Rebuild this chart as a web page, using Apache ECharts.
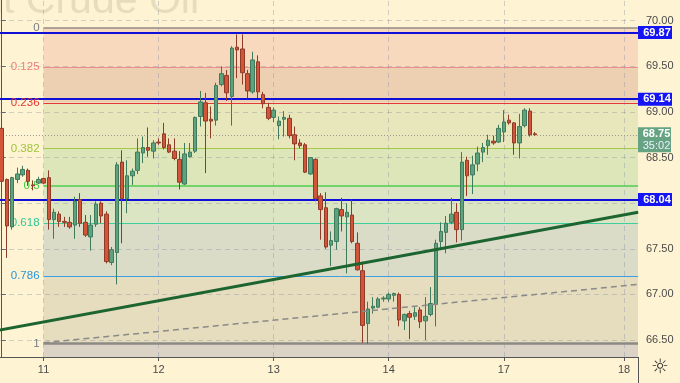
<!DOCTYPE html>
<html><head><meta charset="utf-8">
<script src="https://cdn.jsdelivr.net/npm/echarts@6/dist/echarts.min.js"></script>
<style>html,body{margin:0;padding:0;background:#fef3d2;}#c{width:680px;height:383px;}</style>
</head><body><div id="c"></div>
<script>
// ---- data (hourly bars, index 0 = first visible bar) ----
const opens  = [68.82,68.26,67.74,68.26,68.31,68.36,68.20,68.22,68.27,68.28,67.82,67.88,67.80,67.79,67.76,68.04,67.79,67.63,67.77,68.00,67.88,67.35,67.46,68.45,68.05,68.30,68.36,68.55,68.61,68.57,68.67,68.76,68.64,68.57,68.48,68.21,68.51,68.57,68.95,69.10,68.92,68.91,69.30,69.40,69.17,69.71,69.69,69.42,69.22,69.55,69.19,69.05,68.94,68.85,68.92,68.93,68.75,68.66,68.64,68.32,68.48,68.08,67.95,67.54,67.58,67.93,67.85,67.87,67.56,67.26,66.68,66.85,66.86,66.95,66.95,66.99,67.00,66.71,66.79,66.76,66.83,66.71,66.78,66.89,67.58,67.68,67.79,67.90,67.71,68.47,68.31,68.43,68.56,68.63,68.68,68.67,68.78,68.91,68.88,68.66,68.85,69.01,68.76];
const closes = [68.24,67.75,68.28,68.32,68.37,68.24,68.19,68.26,68.22,67.82,67.90,67.80,67.79,67.74,68.02,67.78,67.65,67.76,67.99,67.86,67.36,67.49,68.42,68.05,68.30,68.35,68.56,68.61,68.58,68.66,68.66,68.61,68.56,68.49,68.23,68.54,68.56,68.94,69.11,68.90,68.90,69.29,69.42,69.21,69.70,69.68,69.43,69.23,69.57,69.22,69.09,68.93,69.02,68.90,68.94,68.74,68.65,68.63,68.34,68.50,68.05,67.93,67.52,67.59,67.94,67.86,67.90,67.58,67.27,66.66,66.84,66.87,66.95,66.96,67.00,67.01,66.72,66.78,66.75,66.80,66.70,66.76,66.90,67.56,67.69,67.78,67.88,67.71,68.45,68.30,68.42,68.55,68.61,68.69,68.66,68.82,68.89,68.88,68.66,68.84,69.02,68.75,68.75];
const lows   = [68.13,67.40,67.71,68.22,68.29,68.19,68.14,68.21,68.21,67.71,67.61,67.74,67.74,67.72,67.61,67.74,67.63,67.48,67.74,67.78,67.34,67.32,67.11,67.56,67.89,68.20,68.32,68.44,68.51,68.49,68.64,68.59,68.55,68.47,68.15,68.20,68.50,68.55,68.84,68.33,68.71,68.85,69.28,69.12,68.85,69.37,69.30,69.15,69.20,69.15,69.04,68.91,68.89,68.70,68.73,68.71,68.47,68.60,68.33,68.31,68.02,67.60,67.50,67.31,67.49,67.69,67.23,67.56,67.26,66.47,66.46,66.79,66.85,66.92,66.92,66.92,66.65,66.61,66.51,66.72,66.63,66.50,66.76,66.65,67.51,67.45,67.77,67.57,67.59,68.08,68.10,68.35,68.45,68.53,68.64,68.66,68.67,68.86,68.53,68.49,68.83,68.73,68.74];
const highs  = [68.92,68.27,68.29,68.39,68.41,68.38,68.25,68.29,68.28,68.36,67.94,67.91,67.85,67.85,68.07,68.11,67.87,67.87,68.02,68.02,67.91,67.52,68.45,68.58,68.47,68.38,68.71,68.73,68.83,68.69,68.71,68.88,68.71,68.71,68.57,68.66,68.66,68.95,69.23,69.21,69.06,69.32,69.50,69.46,69.72,69.85,69.85,69.46,69.66,69.62,69.22,69.10,69.05,68.95,69.01,68.97,68.84,68.70,68.66,68.50,68.49,68.11,68.12,67.69,67.95,68.06,68.00,68.04,67.68,67.36,66.92,66.97,66.97,66.98,67.02,67.02,67.02,66.79,66.82,66.86,66.86,66.97,67.08,67.60,67.79,67.86,68.06,68.00,68.56,68.51,68.52,68.62,68.66,68.75,68.74,68.86,69.02,68.97,68.89,68.98,69.04,69.04,68.78];

const dayTicks  = [8, 30, 52, 74, 96, 119];
const dayLabels = ['11', '12', '13', '14', '17', '18'];
const priceTicks = [66.5, 67, 67.5, 68, 68.5, 69, 69.5, 70];
const priceLabelTicks = [66.5, 67, 67.5, 68.5, 69, 69.5, 70];

const fibRatios = ['0', '0.125', '0.236', '0.382', '0.5', '0.618', '0.786', '1'];
const fibPrices = [69.92, 69.49, 69.10, 68.60, 68.19, 67.78, 67.20, 66.46];
const fibStartIndex = 8;

const blueLevels = [69.87, 69.14, 68.04];
const lastPrice = 68.75;
const countdown = '35:02';
const greenTrend  = [[-0.4, 66.61], [121.7, 67.90]];
const dashedTrend = [[8, 66.47], [121.7, 67.11]];
const watermark = 'Light Crude Oil';

const xMin = -0.325, xMax = 121.67, yMin = 66.314, yMax = 70.227;

// ---- styles ----
const fibLineColors  = ['#8e8c86', '#f08c8c', '#e53935', '#a3c94a', '#4cce4c', '#3fcf9e', '#3a9ee0', '#8c8a85'];
const fibLabelColors = ['#787b86', '#ef7d7d', '#e53935', '#9dc43a', '#3fcc3f', '#2fc89a', '#2b95d8', '#787b86'];
const fibLineWidths  = [1.5, 1, 1, 1, 1.5, 1, 1, 2.5];
const zoneColors = ['#f9d9bd', '#edd0b2', '#e8e7bb', '#dde6b9', '#dbe5c3', '#dadcc8', '#e6dcbe'];
const belowZoneColor = '#dbd3c6';

const chart = echarts.init(document.getElementById('c'), null, {renderer: 'canvas'});

const candleData = opens.map((o, i) => [i, o, closes[i], lows[i], highs[i]]);

const zones = [];
for (let k = 0; k < fibPrices.length - 1; k++) {
  zones.push([{coord: [fibStartIndex, fibPrices[k]], itemStyle: {color: zoneColors[k]}},
              {coord: [xMax, fibPrices[k + 1]]}]);
}
zones.push([{coord: [fibStartIndex, fibPrices[fibPrices.length - 1]], itemStyle: {color: belowZoneColor}},
            {coord: [xMax, yMin]}]);

const gridLines = [];
priceTicks.forEach(v => gridLines.push([{coord: [xMin, v]}, {coord: [xMax, v]}]));
dayTicks.forEach(d => gridLines.push([{coord: [d, yMin]}, {coord: [d, yMax]}]));

const fibLines = fibPrices.map((p, k) => [
  {coord: [fibStartIndex, p],
   lineStyle: {color: fibLineColors[k], width: fibLineWidths[k], type: 'solid'},
   label: {show: true, position: 'start', formatter: fibRatios[k], color: fibLabelColors[k], fontSize: 11.5, distance: 4, fontFamily: 'Liberation Sans'}},
  {coord: [xMax, p]}
]);

const blueLines = blueLevels.map(v => [{coord: [xMin, v]}, {coord: [xMax, v]}]);

const rightLabels = blueLevels.map(v => ({
  coord: [xMax, v], symbol: 'rect', symbolSize: [34, 13], symbolOffset: [17, 0],
  itemStyle: {color: '#1414f5'},
  label: {show: true, position: 'inside', formatter: v.toFixed(2), color: '#fff', fontWeight: 'bold', fontSize: 11, offset: [2, 0], fontFamily: 'Liberation Sans'}
}));
rightLabels.push({
  coord: [xMax, lastPrice], symbol: 'rect', symbolSize: [33, 25], symbolOffset: [16.5, 5],
  itemStyle: {color: '#66a383'},
  label: {show: true, position: 'inside', offset: [2, 0], formatter: '{a|' + lastPrice.toFixed(2) + '}\n{b|' + countdown + '}',
    rich: {a: {color: '#fff', fontWeight: 'bold', fontSize: 11, lineHeight: 12, fontFamily: 'Liberation Sans'},
           b: {color: '#eef', fontSize: 11, lineHeight: 12, fontFamily: 'Liberation Sans'}}}
});

const option = {
  backgroundColor: '#fef3d2',
  animation: false,
  grid: {left: 0, right: 42, top: 0, bottom: 26, containLabel: false},
  xAxis: {
    type: 'value', min: xMin, max: xMax,
    axisLine: {show: true, lineStyle: {color: '#555', width: 1}},
    axisTick: {show: true, customValues: dayTicks, length: 4, lineStyle: {color: '#555'}},
    axisLabel: {show: true, customValues: dayTicks, margin: 7, color: '#4a4a4a', fontSize: 11, fontFamily: 'Liberation Sans',
      formatter: v => { const k = dayTicks.indexOf(Math.round(v)); return k >= 0 ? dayLabels[k] : ''; }},
    splitLine: {show: false}
  },
  yAxis: {
    type: 'value', position: 'right', min: yMin, max: yMax, scale: true,
    axisLine: {show: true, lineStyle: {color: '#555', width: 1}},
    axisTick: {show: true, customValues: priceTicks, length: 4, lineStyle: {color: '#555'}},
    axisLabel: {show: true, customValues: priceLabelTicks, margin: 8, color: '#4a4a4a', fontSize: 11, fontFamily: 'Liberation Sans',
      formatter: v => v.toFixed(2)},
    splitLine: {show: false}
  },
  graphic: [
    {type: 'text', z: 0, silent: true, style: {text: watermark, x: 199, y: 2, textAlign: 'right', textVerticalAlign: 'middle', verticalAlign: 'middle',
      font: '41px "Liberation Sans"', fill: 'rgba(140,130,105,0.2)'}},
    {type: 'line', z: 10, silent: true, shape: {x1: 638.5, y1: 357, x2: 638.5, y2: 383}, style: {stroke: '#555', lineWidth: 1}},
    {type: 'text', z: 10, silent: true, style: {text: '☼', x: 660, y: 368, textAlign: 'center', textVerticalAlign: 'middle', verticalAlign: 'middle',
      font: '20px "DejaVu Sans"', fill: '#333'}}
  ],
  series: [
    {type: 'line', z: 1, data: [], silent: true,
     markArea: {silent: true, data: zones, itemStyle: {opacity: 1}}},
    {type: 'line', z: 2, data: [], silent: true,
     markLine: {silent: true, symbol: ['none', 'none'], label: {show: false},
       lineStyle: {color: 'rgba(125,135,160,0.35)', type: [5, 4], width: 1}, data: gridLines}},
    {type: 'candlestick', z: 5, data: candleData, barWidth: 4,
     itemStyle: {color: '#5fa27e', color0: '#d2553a', borderColor: '#3f7a5d', borderColor0: '#8f3b28', borderWidth: 1}},
    {type: 'line', z: 6, data: [], silent: true,
     markLine: {silent: true, symbol: ['none', 'none'], data: fibLines}},
    {type: 'line', z: 7, data: greenTrend, showSymbol: false, symbol: 'none', silent: true,
     lineStyle: {color: '#1d6530', width: 3}},
    {type: 'line', z: 7, data: dashedTrend, showSymbol: false, symbol: 'none', silent: true,
     lineStyle: {color: '#8a8a88', width: 1.5, type: [6, 4]}},
    {type: 'line', z: 8, data: [], silent: true,
     markLine: {silent: true, symbol: ['none', 'none'], label: {show: false},
       data: [[{coord: [xMin, lastPrice]}, {coord: [xMax, lastPrice]}]],
       lineStyle: {color: '#9a9a90', type: [1, 2], width: 1}}},
    {type: 'line', z: 9, data: [], silent: true,
     markLine: {silent: true, symbol: ['none', 'none'], label: {show: false},
       lineStyle: {color: '#0f0fd8', width: 2, type: 'solid'}, data: blueLines},
     markPoint: {silent: true, data: rightLabels}}
  ]
};
chart.setOption(option);
</script>
</body></html>
